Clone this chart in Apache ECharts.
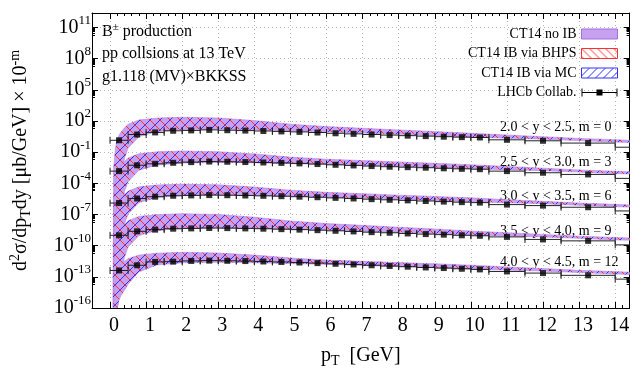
<!DOCTYPE html>
<html>
<head>
<meta charset="utf-8">
<script src="https://cdn.jsdelivr.net/npm/echarts@6/dist/echarts.min.js"></script>
<style>
  html, body { margin: 0; padding: 0; background: #fff; }
  #main { width: 632px; height: 373px; }
</style>
</head>
<body>
<div id="main"></div>
<script>
var FONT = '"Liberation Serif", "DejaVu Serif", serif';

// LHCb pT bins [GeV]
var binLo = [0, 0.5, 1, 1.5, 2, 2.5, 3, 3.5, 4, 4.5, 5, 5.5, 6, 6.5, 7, 7.5, 8, 8.5, 9, 9.5, 10, 10.5, 11.5, 12.5, 14];
var binHi = [0.5, 1, 1.5, 2, 2.5, 3, 3.5, 4, 4.5, 5, 5.5, 6, 6.5, 7, 7.5, 8, 8.5, 9, 9.5, 10, 10.5, 11.5, 12.5, 14, 16.5];
var binMid = [0.25, 0.75, 1.25, 1.75, 2.25, 2.75, 3.25, 3.75, 4.25, 4.75, 5.25, 5.75, 6.25, 6.75, 7.25, 7.75, 8.25, 8.75, 9.25, 9.75, 10.25, 11, 12, 13.25, 15.25];

// d2sigma/dpTdy [ub/GeV], one array per rapidity bin (before the 10^-m shift)
var lhcb_y20 = [1.4, 5.0, 8.0, 11.5, 12.5, 14, 13, 12, 11, 10, 9.0, 7.8, 6.6, 5.8, 5.0, 4.4, 3.9, 3.5, 3.1, 2.8, 2.6, 1.55, 1.25, 0.75, 0.3];
var lhcb_y25 = [1.5, 5.5, 7.6, 9.5, 11, 12.5, 12, 11.2, 10.2, 9.3, 8.3, 7.2, 6.1, 5.3, 4.6, 4.0, 3.6, 3.2, 2.8, 2.5, 2.3, 1.5, 1.05, 0.72, 0.3];
var lhcb_y30 = [1.27, 3.5, 5.2, 6.4, 6.9, 7.4, 7.2, 6.8, 6.3, 5.8, 5.2, 4.6, 4.0, 3.5, 3.0, 2.6, 2.3, 2.0, 1.75, 1.55, 1.4, 0.9, 0.72, 0.5, 0.22];
var lhcb_y35 = [1.0, 2.4, 3.5, 4.3, 4.6, 5.0, 4.9, 4.6, 4.3, 3.9, 3.5, 3.1, 2.7, 2.35, 2.0, 1.75, 1.5, 1.3, 1.15, 1.0, 0.9, 0.7, 0.4, 0.29, 0.12];
var lhcb_y40 = [0.41, 1.3, 2.75, 2.9, 3.4, 3.65, 3.5, 3.3, 3.0, 2.7, 2.4, 2.1, 1.8, 1.55, 1.3, 1.1, 0.95, 0.8, 0.7, 0.6, 0.52, 0.33, 0.23, 0.14, 0.06];

var shiftM = [0, 3, 6, 9, 12];
var rowLabels = ['2.0 < y < 2.5, m = 0', '2.5 < y < 3.0, m = 3', '3.0 < y < 3.5, m = 6', '3.5 < y < 4.0, m = 9', '4.0 < y < 4.5, m = 12'];

// CT14 theory band (upper / lower edge) on a pT grid
var bandPt = [0.08, 0.1, 0.15, 0.2, 0.25, 0.3, 0.4, 0.5, 0.8, 1.3, 2, 3, 4, 5, 6, 7, 8, 9, 10, 11, 12, 13, 14, 14.4];
var bandUp_y20 = [1e-20, 3.2e-3, 0.25, 1.8, 4.3, 8.3, 22, 48, 125, 190, 230, 195, 110, 50, 29, 20, 13.8, 9.7, 6.7, 4.5, 3.1, 2.1, 1.58, 1.38];
var bandLo_y20 = [1e-20, 1e-20, 1e-20, 8.7e-12, 5.6e-8, 1.3e-5, 0.028, 0.25, 3.1, 9.7, 15, 17, 14.4, 11.5, 9.3, 6.9, 5.4, 3.9, 2.8, 2.24, 1.8, 1.3, 0.93, 0.87];
var bandUp_y25 = [1e-20, 1.8e-3, 0.14, 1.03, 2.45, 4.7, 12.5, 27, 71, 108, 131, 111, 68, 33.5, 20.9, 15.6, 11.5, 8.5, 6.2, 4.2, 2.9, 1.95, 1.47, 1.28];
var bandLo_y25 = [1e-20, 1e-20, 1e-20, 5.2e-12, 3.4e-8, 7.8e-6, 0.017, 0.15, 1.86, 5.8, 9.0, 10.2, 9.4, 7.9, 6.9, 5.45, 4.5, 3.4, 2.6, 2.08, 1.67, 1.21, 0.86, 0.81];
var bandUp_y30 = [1e-20, 1.2e-3, 0.093, 0.67, 1.6, 3.1, 8.1, 17.8, 46, 70, 85, 72, 44, 22, 13.6, 10, 7.3, 5.5, 4.0, 2.7, 1.86, 1.26, 0.95, 0.83];
var bandLo_y30 = [1e-20, 1e-20, 1e-20, 1e-10, 2e-7, 2e-5, 0.0126, 0.11, 1.4, 4.4, 6.75, 7.65, 6.8, 5.6, 4.7, 3.7, 3.0, 2.26, 1.68, 1.34, 1.08, 0.78, 0.56, 0.52];
var bandUp_y35 = [1e-20, 1.7e-3, 0.13, 0.94, 2.2, 4.3, 11.4, 25, 65, 99, 120, 101, 55, 24, 13.3, 9.0, 5.9, 4.0, 2.6, 1.76, 1.21, 0.82, 0.62, 0.54];
var bandLo_y35 = [1e-20, 1e-20, 1e-20, 1e-7, 1e-6, 1e-4, 0.008, 0.075, 0.93, 2.9, 4.5, 5.1, 4.5, 3.8, 3.2, 2.4, 1.94, 1.48, 1.09, 0.87, 0.70, 0.51, 0.36, 0.34];
var bandUp_y40 = [1e-20, 3.2e-4, 0.025, 0.18, 0.8, 1.6, 3.2, 5.5, 12.5, 19, 23, 19.5, 12.5, 6.5, 4.1, 3.1, 2.36, 1.8, 1.34, 0.9, 0.62, 0.42, 0.32, 0.28];
var bandLo_y40 = [1e-20, 1e-20, 1e-20, 1e-4, 6e-4, 1.5e-3, 5e-3, 0.02, 0.3, 1.4, 2.25, 2.55, 2.26, 1.89, 1.59, 1.24, 1.0, 0.75, 0.56, 0.45, 0.36, 0.26, 0.19, 0.17];

var yTickVals = [1e-16, 1e-13, 1e-10, 1e-7, 1e-4, 1e-1, 1e2, 1e5, 1e8, 1e11];
var xTickVals = [0, 1, 2, 3, 4, 5, 6, 7, 8, 9, 10, 11, 12, 13, 14];

var lhcbRows = [lhcb_y20, lhcb_y25, lhcb_y30, lhcb_y35, lhcb_y40];
var bandUp = [bandUp_y20, bandUp_y25, bandUp_y30, bandUp_y35, bandUp_y40];
var bandLo = [bandLo_y20, bandLo_y25, bandLo_y30, bandLo_y35, bandLo_y40];

// minor ticks
var xMinor = [];
for (var t = 0; t < 15; t++) {
  for (var k = 1; k < 5; k++) xMinor.push(t + k * 0.2);
}
var yMinor = [];
yTickVals.forEach(function (v) {
  for (var k = 2; k < 10; k++) yMinor.push(k * v / 10);
});

function hatch(color, dir, size) {
  var c = document.createElement('canvas');
  c.width = size; c.height = size;
  var g = c.getContext('2d');
  g.strokeStyle = color;
  g.lineWidth = 1;
  g.beginPath();
  if (dir > 0) {
    g.moveTo(-1, size + 1); g.lineTo(size + 1, -1);
  } else {
    g.moveTo(-1, -1); g.lineTo(size + 1, size + 1);
  }
  g.stroke();
  return { image: c, repeat: 'repeat' };
}
var purple = '#c8a0f0';
var redHatch = hatch('#ff3030', -1, 10);
var blueHatch = hatch('#3030ff', 1, 10);
var redKey = hatch('#ff3030', -1, 8);
var blueKey = hatch('#3030ff', 1, 8);

function bandRenderer(fill, stroke) {
  return function (params, api) {
    var r = params.dataIndex;
    var f = Math.pow(10, -shiftM[r]);
    var pts = [];
    for (var i = 0; i < bandPt.length; i++) pts.push(api.coord([bandPt[i], bandUp[r][i] * f]));
    for (var j = bandPt.length - 1; j >= 0; j--) pts.push(api.coord([bandPt[j], bandLo[r][j] * f]));
    return {
      type: 'polygon',
      shape: { points: pts },
      style: { fill: fill, stroke: stroke, lineWidth: stroke ? 0.6 : 0 }
    };
  };
}
var bandData = shiftM.map(function (m, r) { return [2, lhcbRows[r][4] * Math.pow(10, -m)]; });

var points = [];
var bars = [];
lhcbRows.forEach(function (row, r) {
  var f = Math.pow(10, -shiftM[r]);
  row.forEach(function (v, i) {
    points.push([binMid[i], v * f]);
    bars.push([binMid[i], v * f, binLo[i], binHi[i]]);
  });
});

var myChart = echarts.init(document.getElementById('main'));

var frame = { show: true, onZero: false, lineStyle: { color: '#000', width: 1 } };
var noLine = { show: false, onZero: false };

var option = {
  animation: false,
  textStyle: { fontFamily: FONT },
  grid: { left: 85, right: 1, top: 13, bottom: 61 },
  legend: {
    orient: 'vertical',
    right: 9,
    top: 22,
    align: 'right',
    itemWidth: 36,
    itemHeight: 10,
    itemGap: 5.5,
    selectedMode: false,
    textStyle: { fontFamily: FONT, fontSize: 14, color: '#000' },
    data: [
      { name: 'CT14 no IB', icon: 'rect', itemStyle: { color: purple, borderColor: '#a070e0', borderWidth: 1 } },
      { name: 'CT14 IB via BHPS', icon: 'rect', itemStyle: { color: redKey, borderColor: '#ff3030', borderWidth: 1 } },
      { name: 'CT14 IB via MC', icon: 'rect', itemStyle: { color: blueKey, borderColor: '#3030ff', borderWidth: 1 } },
      { name: 'LHCb Collab.', icon: 'path://M0,4.5H36V5.5H0Z M0,1H1V9H0Z M35,1H36V9H35Z M15,2H21V8H15Z', itemStyle: { color: '#000' } }
    ]
  },
  xAxis: [
    {
      type: 'value', min: -0.5, max: 14.4, position: 'bottom',
      axisLine: frame,
      axisTick: { inside: true, length: 6, customValues: xTickVals, lineStyle: { color: '#000' } },
      axisLabel: { customValues: xTickVals, fontFamily: FONT, fontSize: 20, color: '#000', margin: 8, padding: [0, 0, 0, 8] },
      splitLine: { show: true, lineStyle: { color: '#b8b8b8', type: [1, 3], width: 1 } },
      name: 'p{sub|T}  [GeV]',
      nameLocation: 'middle',
      nameGap: 36,
      nameTextStyle: {
        fontFamily: FONT, fontSize: 20, color: '#000',
        rich: { sub: { fontFamily: FONT, fontSize: 14, color: '#000', padding: [10, 0, 0, 0] } }
      }
    },
    {
      type: 'value', min: -0.5, max: 14.4, position: 'top',
      axisLine: frame,
      axisTick: { inside: true, length: 6, customValues: xTickVals, lineStyle: { color: '#000' } },
      axisLabel: { show: false }, splitLine: { show: false }
    },
    {
      type: 'value', min: -0.5, max: 14.4, position: 'bottom',
      axisLine: noLine,
      axisTick: { inside: true, length: 3, customValues: xMinor, lineStyle: { color: '#000' } },
      axisLabel: { show: false }, splitLine: { show: false }
    },
    {
      type: 'value', min: -0.5, max: 14.4, position: 'top',
      axisLine: noLine,
      axisTick: { inside: true, length: 3, customValues: xMinor, lineStyle: { color: '#000' } },
      axisLabel: { show: false }, splitLine: { show: false }
    }
  ],
  yAxis: [
    {
      type: 'log', logBase: 10, min: 1e-16, max: 2.5e12, position: 'left',
      axisLine: frame,
      axisTick: { inside: true, length: 6, customValues: yTickVals, lineStyle: { color: '#000' } },
      axisLabel: {
        customValues: yTickVals,
        margin: 1,
        color: '#000',
        formatter: function (v) {
          return '{b|10}{s|' + Math.round(Math.log10(v)) + '}';
        },
        rich: {
          b: { fontFamily: FONT, fontSize: 20, color: '#000' },
          s: { fontFamily: FONT, fontSize: 13, color: '#000', padding: [0, 0, 14, 0] }
        }
      },
      splitLine: { show: true, lineStyle: { color: '#b8b8b8', type: [1, 3], width: 1 } },
      name: 'd{sup|2}σ/dp{sub|T}dy [μb/GeV] × 10{sup|-m}',
      nameLocation: 'middle',
      nameRotate: 90,
      nameGap: 58,
      nameTextStyle: {
        fontFamily: FONT, fontSize: 20, color: '#000',
        rich: {
          sup: { fontFamily: FONT, fontSize: 14, color: '#000', padding: [0, 0, 12, 0] },
          sub: { fontFamily: FONT, fontSize: 14, color: '#000', padding: [10, 0, 0, 0] }
        }
      }
    },
    {
      type: 'log', logBase: 10, min: 1e-16, max: 2.5e12, position: 'right',
      axisLine: frame,
      axisTick: { inside: true, length: 6, customValues: yTickVals, lineStyle: { color: '#000' } },
      axisLabel: { show: false }, splitLine: { show: false }
    },
    {
      type: 'log', logBase: 10, min: 1e-16, max: 2.5e12, position: 'left',
      axisLine: noLine,
      axisTick: { inside: true, length: 3, customValues: yMinor, lineStyle: { color: '#000' } },
      axisLabel: { show: false }, splitLine: { show: false }
    },
    {
      type: 'log', logBase: 10, min: 1e-16, max: 2.5e12, position: 'right',
      axisLine: noLine,
      axisTick: { inside: true, length: 3, customValues: yMinor, lineStyle: { color: '#000' } },
      axisLabel: { show: false }, splitLine: { show: false }
    }
  ],
  graphic: [
    { type: 'text', left: 102, top: 22, style: { text: 'B{s|±} production', fontFamily: FONT, fontSize: 16, fill: '#000',
      rich: { s: { fontFamily: FONT, fontSize: 11, fill: '#000', padding: [0, 0, 9, 0] } } } },
    { type: 'text', left: 102, top: 46, style: { text: 'pp collsions at 13 TeV', fontFamily: FONT, fontSize: 16, fill: '#000' } },
    { type: 'text', left: 102, top: 69, style: { text: 'g1.118 (MV)×BKKSS', fontFamily: FONT, fontSize: 16, fill: '#000' } }
  ].concat(rowLabels.map(function (txt, i) {
    var tops = [120, 155, 189, 224, 255];
    return { type: 'text', left: 500, top: tops[i], style: { text: txt, fontFamily: FONT, fontSize: 14, fill: '#000' } };
  })),
  series: [
    {
      name: 'CT14 no IB', type: 'custom', clip: true, z: 2,
      itemStyle: { color: purple },
      renderItem: bandRenderer(purple, '#b48ae8'),
      data: bandData
    },
    {
      name: 'CT14 IB via BHPS', type: 'custom', clip: true, z: 3,
      itemStyle: { color: '#ff3030' },
      renderItem: bandRenderer(redHatch, null),
      data: bandData
    },
    {
      name: 'CT14 IB via MC', type: 'custom', clip: true, z: 4,
      itemStyle: { color: '#3030ff' },
      renderItem: bandRenderer(blueHatch, null),
      data: bandData
    },
    {
      name: 'LHCb Collab.', type: 'custom', clip: true, z: 6,
      itemStyle: { color: '#000' },
      renderItem: function (params, api) {
        var c = api.coord([api.value(0), api.value(1)]);
        var lo = api.coord([api.value(2), api.value(1)]);
        var hi = api.coord([api.value(3), api.value(1)]);
        var ln = { stroke: '#222', lineWidth: 1 };
        return {
          type: 'group',
          children: [
            { type: 'line', shape: { x1: lo[0], y1: c[1], x2: hi[0], y2: c[1] }, style: ln },
            { type: 'line', shape: { x1: lo[0], y1: c[1] - 3.5, x2: lo[0], y2: c[1] + 3.5 }, style: ln },
            { type: 'line', shape: { x1: hi[0], y1: c[1] - 3.5, x2: hi[0], y2: c[1] + 3.5 }, style: ln }
          ]
        };
      },
      data: bars
    },
    {
      name: 'LHCb Collab.', type: 'scatter', clip: true, z: 7,
      symbol: 'rect', symbolSize: 6,
      itemStyle: { color: '#000' },
      markLine: {
        silent: true,
        symbol: 'none',
        label: { show: false },
        lineStyle: { color: '#000', width: 1.2, type: 'solid' },
        data: [{ yAxis: 1e-10 }]
      },
      data: points
    }
  ]
};

myChart.setOption(option);
</script>
</body>
</html>
